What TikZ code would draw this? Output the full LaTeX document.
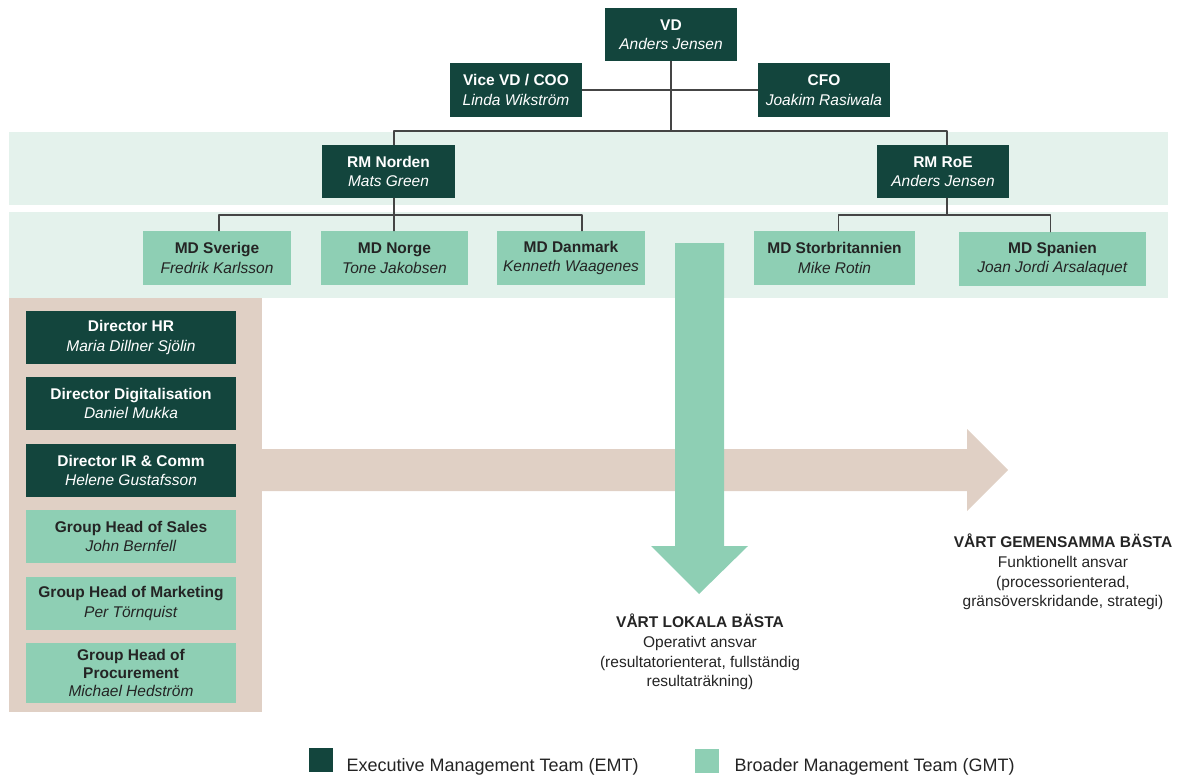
\documentclass[tikz,border=0pt]{standalone}
\usepackage{fontspec}
\setmainfont{Liberation Sans}
\usepackage{tikz}

\definecolor{emtgreen}{HTML}{13453D}
\definecolor{gmtgreen}{HTML}{8ECFB4}
\definecolor{paleband}{HTML}{E4F2EC}
\definecolor{sand}{HTML}{E0D0C5}
\definecolor{inkgray}{HTML}{242424}

\begin{document}
\begin{tikzpicture}[x=1pt, y=-1pt, line cap=round, line join=round,
    emt/.style={rectangle, fill=emtgreen, text=white, align=center, inner sep=0pt,
      minimum height=53pt, font=\fontsize{15.5}{19.5}\selectfont},
    gmt/.style={rectangle, fill=gmtgreen, text=inkgray, align=center, inner sep=0pt,
      minimum height=53pt, font=\fontsize{15.5}{19.5}\selectfont},
    link/.style={line width=1.1pt, draw=inkgray!85},
    note/.style={align=center, text=inkgray, font=\fontsize{15.5}{19.7}\selectfont}]

    \path[use as bounding box] (0,0) rectangle (1180,778);

    % bakgrund
    \fill[paleband] (9,132) rectangle (1168,205);
    \fill[paleband] (9,212) rectangle (1168,298);
    \fill[sand] (9,298) rectangle (262,712);

    % pilar
    \fill[sand] (262,449) -- (967,449) -- (967,429) -- (1008,470)
        -- (967,511) -- (967,491) -- (262,491) -- cycle;
    \fill[gmtgreen] (675,243) -- (724,243) -- (724,546) -- (748,546)
        -- (699,594) -- (651,546) -- (675,546) -- cycle;

    % ledning
    \node[emt, minimum width=132pt] (vd)  at (671,34.5) {\textbf{VD}\\\textit{Anders Jensen}};
    \node[emt, minimum width=132pt, minimum height=54pt] (coo) at (516,90) {\textbf{Vice VD / COO}\\\textit{Linda Wikström}};
    \node[emt, minimum width=132pt, minimum height=54pt] (cfo) at (824,90) {\textbf{CFO}\\\textit{Joakim Rasiwala}};

    % regioner
    \node[emt, minimum width=133pt] (rmn) at (388.5,171.5) {\textbf{RM Norden}\\\textit{Mats Green}};
    \node[emt, minimum width=132pt] (rmr) at (943,171.5) {\textbf{RM RoE}\\\textit{Anders Jensen}};

    % länder
    \node[gmt, minimum width=148pt, minimum height=54pt] (sve) at (217,258) {\textbf{MD Sverige}\\\textit{Fredrik Karlsson}};
    \node[gmt, minimum width=147pt, minimum height=54pt] (nor) at (394.5,258) {\textbf{MD Norge}\\\textit{Tone Jakobsen}};
    \node[gmt, minimum width=148pt, minimum height=54pt] (dan) at (571,258) {\textbf{MD Danmark}\\\textit{Kenneth Waagenes}};
    \node[gmt, minimum width=161pt, minimum height=54pt] (sto) at (834.5,258) {\textbf{MD Storbritannien}\\\textit{Mike Rotin}};
    \node[gmt, minimum width=187pt, minimum height=54pt] (spa) at (1052.5,259) {\textbf{MD Spanien}\\\textit{Joan Jordi Arsalaquet}};

    % funktioner
    \node[emt, minimum width=210pt] (hr)   at (131,337.5) {\textbf{Director HR}\\\textit{Maria Dillner Sjölin}};
    \node[emt, minimum width=210pt] (dig)  at (131,403.5) {\textbf{Director Digitalisation}\\\textit{Daniel Mukka}};
    \node[emt, minimum width=210pt] (ir)   at (131,470.5) {\textbf{Director IR \& Comm}\\\textit{Helene Gustafsson}};
    \node[gmt, minimum width=210pt] (sal)  at (131,536.5) {\textbf{Group Head of Sales}\\\textit{John Bernfell}};
    \node[gmt, minimum width=210pt] (mkt)  at (131,603.5) {\textbf{Group Head of Marketing}\\\textit{Per Törnquist}};
    \node[gmt, minimum width=210pt, minimum height=60pt, font=\fontsize{15.5}{18}\selectfont] (proc) at (131,673)
        {\textbf{Group Head of}\\\textbf{Procurement}\\\textit{Michael Hedström}};

    % linjer
    \coordinate (topbar) at (671,131);
    \coordinate (nbar) at (394,215);
    \coordinate (rbar) at (947,215);

    \draw[link] (coo.east) -- (cfo.west);
    \draw[link] (vd.south) -- (topbar);
    \draw[link] (nbar |- rmn.north) |- (topbar) -| (rbar |- rmr.north);
    \draw[link] (nbar |- rmn.south) -- (nbar |- nor.north);
    \draw[link] ([xshift=2pt]sve.north) |- (nbar) -| ([xshift=11pt]dan.north);
    \draw[link] (rbar |- rmr.south) -- (rbar);
    \draw[link] ([xshift=4pt]sto.north) |- (rbar) -| ([xshift=-2pt]spa.north);

    % texter
    \node[note] (lokal) at (700,652)
        {\textbf{VÅRT LOKALA BÄSTA}\\Operativt ansvar\\(resultatorienterat, fullständig\\resultaträkning)};
    \node[note] (gemensam) at (1063,572)
        {\textbf{VÅRT GEMENSAMMA BÄSTA}\\Funktionellt ansvar\\(processorienterad,\\gränsöverskridande, strategi)};

    % förklaring
    \node[fill=emtgreen, minimum size=24pt, inner sep=0pt] (emtkey) at (321,760) {};
    \node[anchor=west, text=inkgray, font=\fontsize{18}{22}\selectfont] (emtlabel) at (343,767) {Executive Management Team (EMT)};
    \node[fill=gmtgreen, minimum size=24pt, inner sep=0pt] (gmtkey) at (706.5,761) {};
    \node[anchor=west, text=inkgray, font=\fontsize{18}{22}\selectfont] (gmtlabel) at (731,767) {Broader Management Team (GMT)};
\end{tikzpicture}
\end{document}
